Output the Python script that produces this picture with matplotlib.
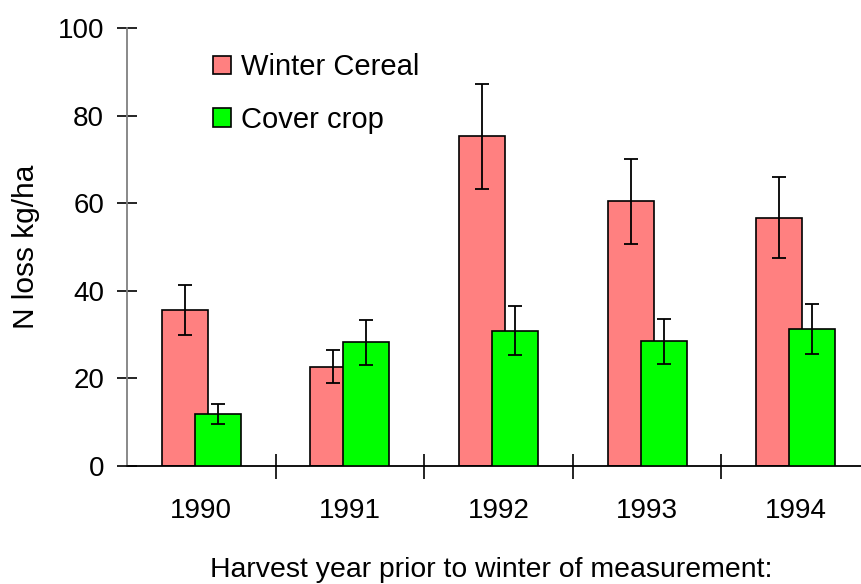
import matplotlib
import numpy as np

matplotlib.use("Agg")
import matplotlib.pyplot as plt  # noqa: E402

plt.rcParams["font.family"] = ["Liberation Sans", "DejaVu Sans"]

YEARS = ["1990", "1991", "1992", "1993", "1994"]
WINTER = [35.6, 22.7, 75.3, 60.4, 56.7]
WINTER_ERR = [5.7, 3.8, 12.0, 9.7, 9.3]
COVER = [11.9, 28.2, 30.9, 28.5, 31.3]
COVER_ERR = [2.2, 5.1, 5.6, 5.1, 5.8]

W = 0.31
OFF = 0.111
FS = 20

fig = plt.figure(figsize=(8.62, 5.84), dpi=100)
ax = fig.add_axes([127 / 862, 118 / 584, 735 / 862, 438 / 584])

x = np.arange(len(YEARS))
b1 = ax.bar(x - OFF, WINTER, W, color="#ff8080", edgecolor="black", linewidth=1.2,
            label="Winter Cereal", zorder=2)
b2 = ax.bar(x + OFF, COVER, W, color="#00ff00", edgecolor="black", linewidth=1.2,
            label="Cover crop", zorder=3)
ax.errorbar(x - OFF, WINTER, yerr=WINTER_ERR, fmt="none", ecolor="black",
            elinewidth=1.3, capsize=5, capthick=1.3, zorder=4)
ax.errorbar(x + OFF, COVER, yerr=COVER_ERR, fmt="none", ecolor="black",
            elinewidth=1.3, capsize=5, capthick=1.3, zorder=4)

ax.set_xlim(-0.5, -0.5 + 735 / 148.6)
ax.set_ylim(0, 100)
ax.set_yticks(np.arange(0, 101, 20))
ax.set_xticks(x)
ax.set_xticklabels(YEARS)
ax.set_xticks(np.arange(0.5, 4.0, 1.0), minor=True)
ax.tick_params(axis="x", which="major", length=0, pad=23, labelsize=FS)
ax.tick_params(axis="x", which="minor", direction="inout", length=18, width=1.2, color="black")
ax.tick_params(axis="y", direction="inout", length=15, width=1.2, pad=9, labelsize=FS,
               color="black")

for s in ("top", "right"):
    ax.spines[s].set_visible(False)
ax.spines["left"].set_color("#808080")
ax.spines["left"].set_linewidth(1.3)
ax.spines["bottom"].set_color("black")
ax.spines["bottom"].set_linewidth(1.3)

ax.set_ylabel("N loss kg/ha", fontsize=21.5, labelpad=12.5)
fig.text(491 / 862, 1 - 577 / 584, "Harvest year prior to winter of measurement:",
         ha="center", va="baseline", fontsize=20.4)

ax.legend(handles=[b1, b2], loc="upper left", bbox_to_anchor=(0.101, 0.969), frameon=False,
          fontsize=21, handlelength=0.62, handleheight=0.62, handletextpad=0.35,
          labelspacing=0.84, borderaxespad=0)

fig.savefig("out.png", dpi=100)
